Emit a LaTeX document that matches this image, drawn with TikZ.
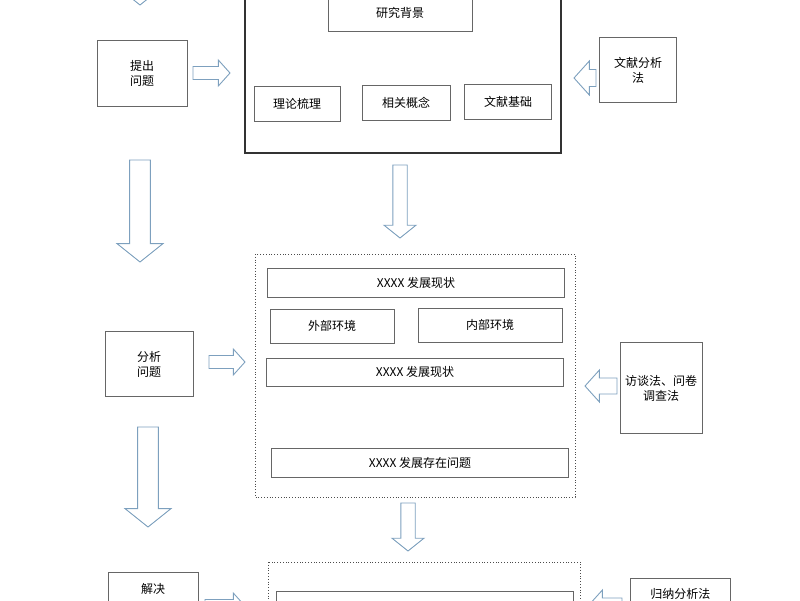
\documentclass[tikz,border=0pt]{standalone}
\usepackage{fontspec}
\setmainfont{Noto Sans CJK SC}
\definecolor{ac}{RGB}{125,160,190}
\begin{document}
\begin{tikzpicture}[x=1pt,y=-1pt,
 box/.style={draw=black!60,line width=0.8pt,fill=white,font=\fontsize{12}{15}\selectfont,align=center},
 arr/.style={draw=ac,line width=0.9pt,fill=white}]
\useasboundingbox (0,0) rectangle (800,600);
\newcommand\darr[4]{% x, ytop, ybot, halfwidth
 \draw[arr] (#1-#4*0.45,#2) -- (#1+#4*0.45,#2) -- (#1+#4*0.45,#3-#4*0.8) -- (#1+#4,#3-#4*0.8) -- (#1,#3) -- (#1-#4,#3-#4*0.8) -- (#1-#4*0.45,#3-#4*0.8) -- cycle;}
\newcommand\rarr[4]{% y, xleft, xright, halfheight
 \draw[arr] (#2,#1-#4*0.5) -- (#3-#4*0.9,#1-#4*0.5) -- (#3-#4*0.9,#1-#4) -- (#3,#1) -- (#3-#4*0.9,#1+#4) -- (#3-#4*0.9,#1+#4*0.5) -- (#2,#1+#4*0.5) -- cycle;}
\newcommand\larr[4]{%
 \draw[arr] (#3,#1-#4*0.5) -- (#2+#4*0.9,#1-#4*0.5) -- (#2+#4*0.9,#1-#4) -- (#2,#1) -- (#2+#4*0.9,#1+#4) -- (#2+#4*0.9,#1+#4*0.5) -- (#3,#1+#4*0.5) -- cycle;}
% section 1
\darr{140}{-20}{5}{12}
\node[box,minimum width=90pt,minimum height=66pt] (p1) at (142,73) {提出\\问题};
\rarr{73}{193}{230}{13}
\draw[black!80,line width=1.3pt,fill=white] (245,-5) rectangle (561,153);
\node[box,minimum width=144pt,minimum height=36pt] (b1) at (400,13) {研究背景};
\node[box,minimum width=86pt,minimum height=35pt] (b2) at (297,104) {理论梳理};
\node[box,minimum width=88pt,minimum height=35pt] (b3) at (406,103) {相关概念};
\node[box,minimum width=87pt,minimum height=35pt] (b4) at (508,102) {文献基础};
\node[box,minimum width=77pt,minimum height=65pt] (m1) at (638,70) {文献分析\\法};
\larr{78}{574}{596}{17}
% arrows down
\darr{140}{160}{262}{23}
\darr{400}{165}{238}{16}
% section 2
\draw[black!70,line width=0.8pt,dotted,fill=white] (255,254) rectangle (575,497);
\node[box,minimum width=297pt,minimum height=29pt] (c1) at (416,283) {XXXX 发展现状};
\node[box,minimum width=124pt,minimum height=34pt] (c2) at (332,326) {外部环境};
\node[box,minimum width=144pt,minimum height=34pt] (c3) at (490,325) {内部环境};
\node[box,minimum width=297pt,minimum height=28pt] (c4) at (415,372) {XXXX 发展现状};
\node[box,minimum width=297pt,minimum height=29pt] (c5) at (420,463) {XXXX 发展存在问题};
\node[box,minimum width=88pt,minimum height=65pt] (p2) at (149,364) {分析\\问题};
\rarr{362}{209}{245}{13}
\node[box,minimum width=82pt,minimum height=91pt] (m2) at (661,388) {访谈法、问卷\\调查法};
\larr{386}{585}{617}{16}
\darr{148}{427}{527}{23}
\darr{408}{503}{551}{16}
% section 3
\draw[black!70,line width=0.8pt,dotted,fill=white] (268,562) rectangle (580,640);
\node[box,minimum width=297pt,minimum height=30pt] (d1) at (425,606) {};
\node[box,minimum width=90pt,minimum height=60pt,anchor=north,text depth=28pt] (p3) at (153,572) {解决};
\rarr{606}{205}{245}{13}
\node[box,minimum width=100pt,minimum height=60pt,anchor=north west,text depth=30pt] (m3) at (630,578) {归纳分析法};
\larr{606}{588}{622}{16}
\end{tikzpicture}
\end{document}
